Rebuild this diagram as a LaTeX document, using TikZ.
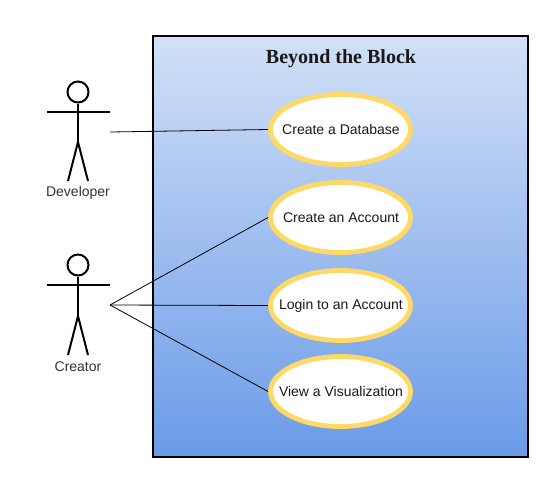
\documentclass[tikz,border=0pt]{standalone}
\usepackage{fontspec}
\setmainfont{Liberation Sans}
\newfontfamily\titlefont{Liberation Serif}
\usetikzlibrary{shapes.geometric}
\definecolor{topblue}{HTML}{D2E0F7}
\definecolor{botblue}{HTML}{6A9BE8}
\definecolor{ringyellow}{HTML}{FFD966}
\definecolor{labelgrey}{HTML}{333333}
\newcommand{\caselabel}[1]{\makebox[0pt]{\hspace{1pt}#1}}
\tikzset{
  usecase/.style={ellipse,draw=ringyellow,line width=4.8pt,fill=white,minimum width=140pt,minimum height=70pt,inner sep=0pt,font=\fontsize{14}{16}\selectfont,text=black!90},
  systembox/.style={draw=black,line width=2pt,top color=topblue,bottom color=botblue},
  stick/.style={draw=black,line width=2pt},
  actorlabel/.style={font=\fontsize{14}{16}\selectfont,text=labelgrey,inner sep=0pt},
  wire/.style={draw=black,line width=0.8pt}
}
\begin{document}
\begin{tikzpicture}[x=1pt,y=-1pt]
\useasboundingbox (0,0) rectangle (548,477);
\node[systembox,minimum width=375pt,minimum height=421pt,inner sep=0pt] (system) at (340.5,246.5) {};
\node[font=\titlefont\bfseries\fontsize{20}{22}\selectfont,text=black!90,inner sep=0pt] (title) at (341,59) {Beyond the Block};
% Developer
\node[circle,stick,minimum size=21pt,inner sep=0pt] (devhead) at (78,92) {};
\draw[stick] (devhead.south) -- (78,142);
\draw[stick] (47,112) -- (110,112);
\draw[stick] (68,181) -- (78,142) -- (88,181);
\node[actorlabel] (developer) at (78,193) {Developer};
\coordinate (devport) at (110,132);
% Creator
\node[circle,stick,minimum size=21pt,inner sep=0pt] (crehead) at (78,265) {};
\draw[stick] (crehead.south) -- (78,316);
\draw[stick] (47,285) -- (110,285);
\draw[stick] (68,355) -- (78,316) -- (88,355);
\node[actorlabel] (creator) at (78,367) {Creator};
\coordinate (creport) at (110,305);
% Use cases
\node[usecase] (db) at (340.5,129.5) {\caselabel{Create a Database}};
\node[usecase] (account) at (340.5,217.5) {\caselabel{Create an Account}};
\node[usecase] (login) at (340.5,305.5) {\caselabel{Login to an Account}};
\node[usecase] (viz) at (340.5,391.5) {\caselabel{View a Visualization}};
% Connectors
\draw[wire] (devport) -- (db.west);
\draw[wire] (creport) -- (account.west);
\draw[wire] (creport) -- (login.west);
\draw[wire] (creport) -- (viz.west);
\end{tikzpicture}
\end{document}
